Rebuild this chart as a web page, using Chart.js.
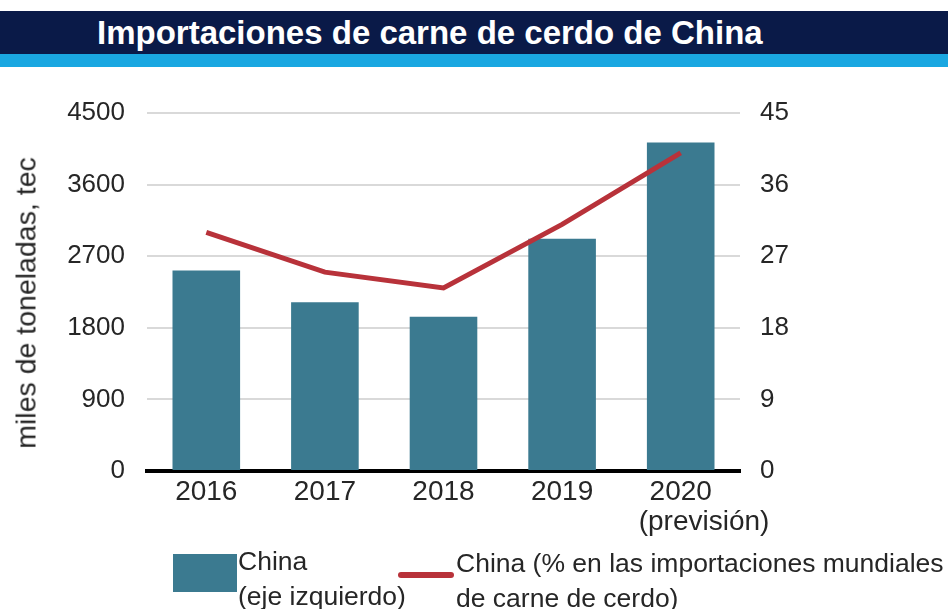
<!DOCTYPE html>
<html>
<head>
<meta charset="utf-8">
<script src="https://cdn.jsdelivr.net/npm/chart.js@4/dist/chart.umd.min.js"></script>
<style>
  html, body { margin:0; padding:0; background:#fff; }
  body { width:948px; height:609px; position:relative; overflow:hidden; font-family:"Liberation Sans", Arial, sans-serif; }
  #titlebar { position:absolute; left:0; top:11px; width:948px; height:43px; background:#0a1a48; }
  #titlebar span { position:absolute; left:97px; top:0; line-height:43px; color:#fff; font-weight:bold; font-size:33px; white-space:nowrap; }
  #stripe { position:absolute; left:0; top:54px; width:948px; height:13px; background:#1aa7e1; }
  #wrap { position:absolute; left:0; top:0; width:948px; height:609px; }
  .leg { position:absolute; color:#262626; font-size:26.5px; line-height:35px; white-space:nowrap; }
  #box { position:absolute; left:173px; top:554px; width:64px; height:38px; background:#3b7a90; }
  #redline { position:absolute; left:398px; top:572px; width:56px; height:6px; background:#b8323a; border-radius:3px; }
  #ytitle { position:absolute; left:26px; top:303px; transform:translate(-50%,-50%) rotate(-90deg); color:#262626; font-size:28.5px; white-space:nowrap; }
</style>
</head>
<body>
<div id="wrap"><canvas id="c" width="948" height="609"></canvas></div>
<div id="titlebar"><span>Importaciones de carne de cerdo de China</span></div>
<div id="stripe"></div>
<div id="ytitle">miles de toneladas, tec</div>
<div id="box"></div>
<div class="leg" style="left:238px; top:544px;">China<br>(eje izquierdo)</div>
<div id="redline"></div>
<div class="leg" style="left:456px; top:546px;">China (% en las importaciones mundiales<br>de carne de cerdo)</div>
<script>
const categories = [["2016"], ["2017"], ["2018"], ["2019"], ["2020", "      (previsión)"]];
const importsTonnes = [2520, 2120, 1940, 2920, 4130];
const worldSharePct = [30, 25, 23, 31, 40];
const leftTicks = [0, 900, 1800, 2700, 3600, 4500];
const rightTicks = [0, 9, 18, 27, 36, 45];

const fam = "'Liberation Sans', Arial, sans-serif";

new Chart(document.getElementById('c'), {
  data: {
    labels: categories,
    datasets: [
      {
        type: 'line', label: 'China (% en las importaciones mundiales de carne de cerdo)',
        data: worldSharePct, yAxisID: 'y2',
        borderColor: '#b8323a', borderWidth: 5, pointRadius: 0, tension: 0,
        order: 0
      },
      {
        type: 'bar', label: 'China (eje izquierdo)',
        data: importsTonnes, yAxisID: 'y',
        backgroundColor: '#3b7a90', barPercentage: 0.57, categoryPercentage: 1.0,
        order: 1
      }
    ]
  },
  options: {
    responsive: false, animation: false,
    layout: { padding: { top: 113, left: 0, right: 0, bottom: 0 } },
    plugins: { legend: { display: false }, tooltip: { enabled: false } },
    scales: {
      x: {
        grid: { display: false, drawTicks: false },
        border: { display: true, color: '#000', width: 4 },
        ticks: { color: '#262626', font: { family: fam, size: 28, lineHeight: 1.07 }, padding: 6, maxRotation: 0, autoSkip: false },
        afterFit: (s) => { s.height = 138; }
      },
      y: {
        position: 'left', min: 0, max: 4500,
        afterBuildTicks: (s) => { s.ticks = leftTicks.map(v => ({ value: v })); },
        grid: { color: (c) => c.tick && c.tick.value === 0 ? 'rgba(0,0,0,0)' : '#d9d9d9', lineWidth: 2, drawTicks: false },
        border: { display: false },
        ticks: { color: '#262626', font: { family: fam, size: 26 }, padding: 22, callback: (v) => String(v) },
        afterFit: (s) => { s.width = 147; }
      },
      y2: {
        position: 'right', min: 0, max: 45,
        afterBuildTicks: (s) => { s.ticks = rightTicks.map(v => ({ value: v })); },
        grid: { display: false, drawTicks: false },
        border: { display: false },
        ticks: { color: '#262626', font: { family: fam, size: 26 }, padding: 20, callback: (v) => String(v) },
        afterFit: (s) => { s.width = 208; }
      }
    }
  }
});
</script>
</body>
</html>
